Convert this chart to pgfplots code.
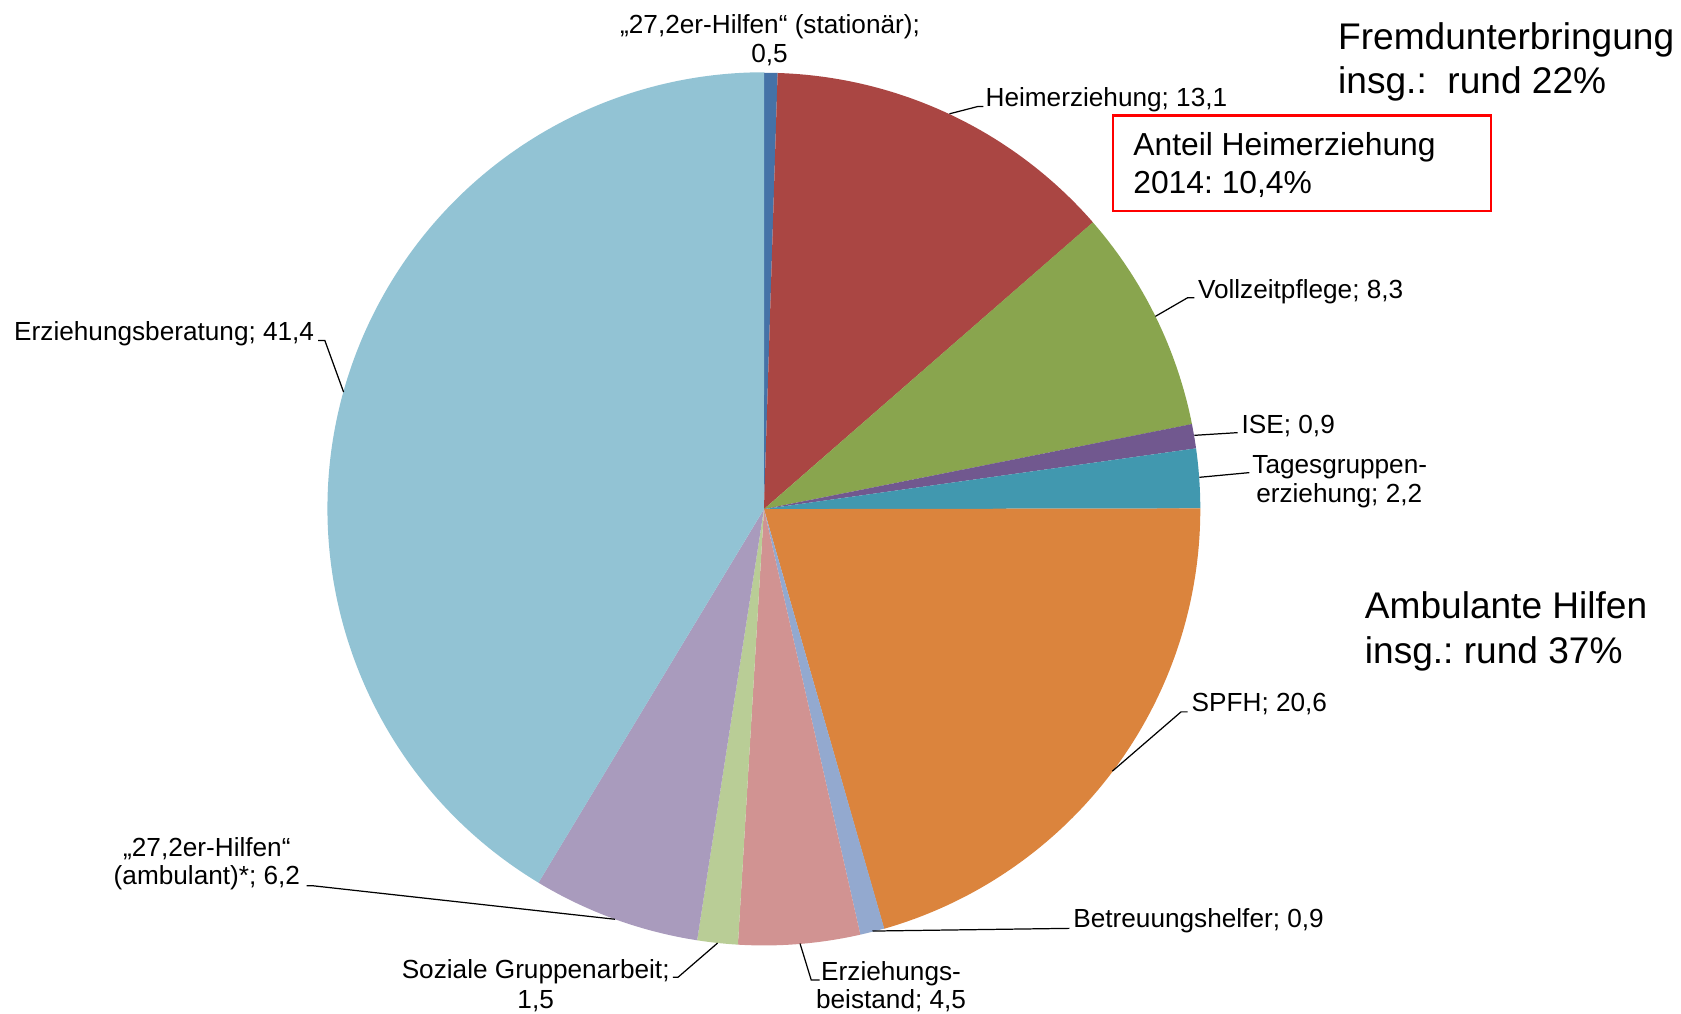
\documentclass[border=0pt]{standalone}
\usepackage{pgfplots}
\usepackage{pgfplotstable}
\pgfplotsset{compat=1.18}
\usepackage{fontspec}
\setmainfont{Liberation Sans}
\frenchspacing

\definecolor{sA}{HTML}{4572A7}
\definecolor{sB}{HTML}{AA4643}
\definecolor{sC}{HTML}{89A54E}
\definecolor{sD}{HTML}{71588F}
\definecolor{sE}{HTML}{4198AF}
\definecolor{sF}{HTML}{DB843D}
\definecolor{sG}{HTML}{93A9CF}
\definecolor{sH}{HTML}{D19392}
\definecolor{sI}{HTML}{B9CD96}
\definecolor{sJ}{HTML}{A99BBD}
\definecolor{sK}{HTML}{92C3D4}

\newcommand\labfont{\fontsize{7.45}{8.1}\selectfont}
\newcommand\bigfont{\fontsize{10.55}{12.6}\selectfont}
\newcommand\boxfont{\fontsize{9.05}{10.9}\selectfont}

% shares in percent, clockwise from the top
\pgfplotstableread{
value color
0.5  sA
13.1 sB
8.3  sC
0.9  sD
2.2  sE
20.6 sF
0.9  sG
4.5  sH
1.5  sI
6.2  sJ
41.4 sK
}\piedata

\begin{document}
\begin{tikzpicture}
\path[use as bounding box] (0,0) rectangle (16.81,10.14);
\begin{axis}[
    x=0.01cm, y=0.01cm,
    xmin=0, xmax=1681,
    ymin=0, ymax=1014,
    y dir=reverse,
    hide axis,
    clip=false
]

% pie slices, angles from the running share
\pgfplotstablegetrowsof{\piedata}
\pgfmathtruncatemacro\nrows{\pgfplotsretval-1}
\gdef\total{0}
\pgfplotsforeachungrouped \i in {0,...,\nrows}{%
  \pgfplotstablegetelem{\i}{value}\of\piedata
  \pgfmathsetmacro\tmp{\total+\pgfplotsretval}%
  \xdef\total{\tmp}%
}
\gdef\cum{0}
\pgfplotsforeachungrouped \i in {0,...,\nrows}{%
  \pgfplotstablegetelem{\i}{value}\of\piedata \let\val\pgfplotsretval
  \pgfplotstablegetelem{\i}{color}\of\piedata \let\slc\pgfplotsretval
  \pgfmathsetmacro\angA{90-360*(\cum/\total)}%
  \pgfmathsetmacro\angB{90-360*((\cum+\val)/\total)}%
  \pgfmathsetmacro\xs{764.4+436.6*cos(\angA)}%
  \pgfmathsetmacro\ys{508.8-436.6*sin(\angA)}%
  \edef\temp{\noexpand\fill[\slc] (axis cs:\xs,\ys) arc[start angle=\angA, end angle=\angB, radius=4.366cm] -- (axis cs:764.4,508.8) -- cycle;}%
  \temp
  \pgfmathsetmacro\tmp{\cum+\val}%
  \xdef\cum{\tmp}%
}

% leader lines
\draw[line width=0.35pt] (axis cs:950,113.3) -- (axis cs:978.3,106) -- (axis cs:984,106);
\draw[line width=0.35pt] (axis cs:1156,316) -- (axis cs:1188.3,297.3) -- (axis cs:1195,297.3);
\draw[line width=0.35pt] (axis cs:1195,435) -- (axis cs:1238.3,432.3);
\draw[line width=0.35pt] (axis cs:1200,477) -- (axis cs:1250,472.3);
\draw[line width=0.35pt] (axis cs:1113,771) -- (axis cs:1181.7,711.7) -- (axis cs:1188.3,711.7);
\draw[line width=0.35pt] (axis cs:873,931) -- (axis cs:1070,928.3);
\draw[line width=0.35pt] (axis cs:800.5,943.5) -- (axis cs:811.7,980) -- (axis cs:820,980);
\draw[line width=0.35pt] (axis cs:718,943) -- (axis cs:678.3,977.3) -- (axis cs:673.3,977.3);
\draw[line width=0.35pt] (axis cs:615.4,919.2) -- (axis cs:313.3,885.7) -- (axis cs:306.7,885.7);
\draw[line width=0.35pt] (axis cs:343.8,391.7) -- (axis cs:325,340) -- (axis cs:318.3,340);

% slice labels
\node[anchor=base, font=\labfont, inner sep=0] at (axis cs:770.5,33.3) {„27,2er-Hilfen“ (stationär);};
\node[anchor=base, font=\labfont, inner sep=0] at (axis cs:770,61.7) {0,5};
\node[anchor=base west, font=\labfont, inner sep=0] at (axis cs:985.5,106) {Heimerziehung; 13,1};
\node[anchor=base west, font=\labfont, inner sep=0] at (axis cs:1198,298.3) {Vollzeitpflege; 8,3};
\node[anchor=base west, font=\labfont, inner sep=0] at (axis cs:1241.7,433.3) {ISE; 0,9};
\node[anchor=base, font=\labfont, inner sep=0] at (axis cs:1340.5,473.3) {Tagesgruppen-};
\node[anchor=base, font=\labfont, inner sep=0] at (axis cs:1340,501.7) {erziehung; 2,2};
\node[anchor=base west, font=\labfont, inner sep=0] at (axis cs:1191.7,711.7) {SPFH; 20,6};
\node[anchor=base west, font=\labfont, inner sep=0] at (axis cs:1073.3,927.3) {Betreuungshelfer; 0,9};
\node[anchor=base, font=\labfont, inner sep=0] at (axis cs:891.6,980) {Erziehungs-};
\node[anchor=base, font=\labfont, inner sep=0] at (axis cs:891.6,1008.3) {beistand; 4,5};
\node[anchor=base, font=\labfont, inner sep=0] at (axis cs:536,978.3) {Soziale Gruppenarbeit;};
\node[anchor=base, font=\labfont, inner sep=0] at (axis cs:536,1008.3) {1,5};
\node[anchor=base, font=\labfont, inner sep=0] at (axis cs:207,856.5) {„27,2er-Hilfen“};
\node[anchor=base, font=\labfont, inner sep=0] at (axis cs:207,884.5) {(ambulant)*; 6,2};
\node[anchor=base east, font=\labfont, inner sep=0] at (axis cs:315,340) {Erziehungsberatung; 41,4};

% annotations
\node[anchor=base west, font=\bigfont, inner sep=0] at (axis cs:1338.3,49.3) {Fremdunterbringung};
\node[anchor=base west, font=\bigfont, inner sep=0] at (axis cs:1338.3,93.3) {insg.:\ \ rund 22\%};
\draw[red, line width=0.6pt] (axis cs:1114,115) rectangle (axis cs:1491.7,210.7);
\node[anchor=base west, font=\boxfont, inner sep=0] at (axis cs:1133.3,155) {Anteil Heimerziehung};
\node[anchor=base west, font=\boxfont, inner sep=0] at (axis cs:1133.3,193.3) {2014: 10,4\%};
\node[anchor=base west, font=\bigfont, inner sep=0] at (axis cs:1365,618.3) {Ambulante Hilfen};
\node[anchor=base west, font=\bigfont, inner sep=0] at (axis cs:1365,663.3) {insg.: rund 37\%};

\end{axis}
\end{tikzpicture}
\end{document}
